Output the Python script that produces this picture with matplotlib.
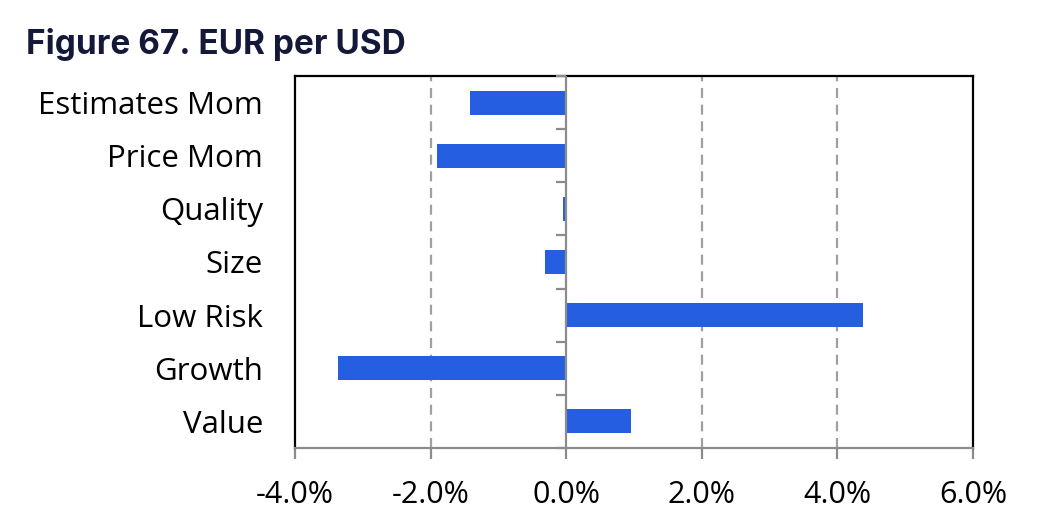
import numpy as np
import matplotlib
matplotlib.use("Agg")
import matplotlib.pyplot as plt
from matplotlib.ticker import FuncFormatter

# data (percent), top to bottom as shown
factors = ["Estimates Mom", "Price Mom", "Quality", "Size", "Low Risk", "Growth", "Value"]
values = [-1.42, -1.91, -0.05, -0.31, 4.37, -3.36, 0.96]
xticks = [-4, -2, 0, 2, 4, 6]

plt.rcParams['font.family'] = ['Open Sans', 'DejaVu Sans']

fig = plt.figure(figsize=(10.58, 5.19), dpi=100)
ax = fig.add_axes([0.2788, 0.1368, 0.6409, 0.7168])

pos = np.arange(len(factors))[::-1]
ax.barh(pos, values, height=0.45, color="#255ee0", zorder=3)

ax.set_xlim(-4, 6)
ax.set_ylim(-0.5, len(factors) - 0.5)
ax.set_xticks(xticks)
ax.xaxis.set_major_formatter(FuncFormatter(lambda v, p: f"{v:.1f}%"))
ax.set_yticks(pos)
ax.set_yticklabels(factors)
ax.tick_params(axis='y', length=0, pad=23, labelsize=22.5)
ax.tick_params(axis='x', length=8, width=1.6, color="#8c8c8c", labelsize=22, pad=15)

# dashed grid lines, solid zero line
for v in xticks[1:-1]:
    if v == 0:
        ax.axvline(v, color="#8c8c8c", lw=1.6, zorder=4)
    else:
        ax.axvline(v, color="#a0a0a0", lw=1.6, ls=(0, (4.5, 3)), zorder=1)

# category boundary ticks on the zero line
bounds = np.arange(len(factors) + 1) - 0.5
ax.plot(np.zeros(len(bounds)), bounds, ls="none", marker=0, markersize=7.5,
        markeredgewidth=1.6, color="#8c8c8c", zorder=4, clip_on=False)

for s in ["top", "left", "right"]:
    ax.spines[s].set_color("black")
    ax.spines[s].set_linewidth(1.6)
ax.spines["bottom"].set_color("#8c8c8c")
ax.spines["bottom"].set_linewidth(1.6)

fig.text(0.025, 0.915, "Figure 67. EUR per USD", fontsize=24, fontweight="bold",
         color="#14193a", family=["Inter", "DejaVu Sans"], va="center")

fig.savefig("out.png", dpi=100)
